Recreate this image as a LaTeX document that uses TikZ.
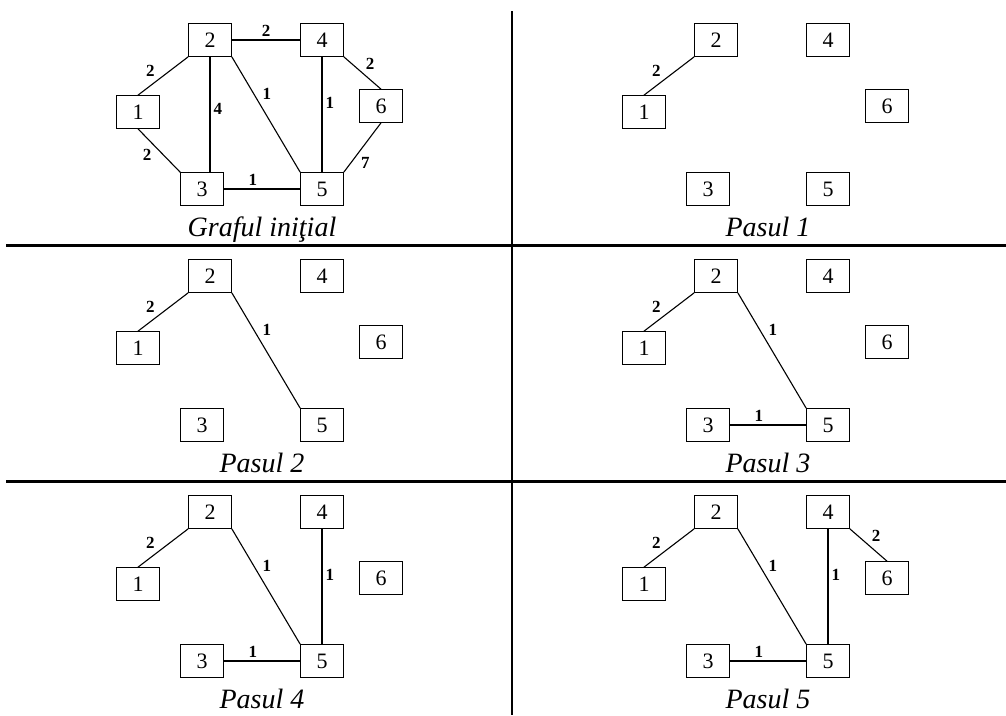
\documentclass[tikz,border=0pt]{standalone}
\usepackage{fontspec}
\setmainfont{Liberation Serif}
\usepackage{tikz}
\usetikzlibrary{positioning}
\tikzset{box node/.style={rectangle,draw,minimum width=43pt,minimum height=33pt,inner sep=0pt,line width=0.7pt,font=\fontsize{22}{22}\selectfont},
weight/.style={font=\bfseries\fontsize{17}{17}\selectfont,inner sep=3pt},
caption/.style={font=\itshape\fontsize{28}{28}\selectfont,anchor=base,inner sep=0pt},
sep line/.style={line width=2.2pt},}

\begin{document}
\begin{tikzpicture}[x=1pt,y=1pt,auto,on grid,line width=1.1pt]
    \useasboundingbox (0,0) rectangle (1006,-715);

    % the six panels
    \foreach \p/\x/\y/\txt in {g/0/0/{Graful iniţial},a/506/0/{Pasul 1},b/0/236/{Pasul 2},c/506/236/{Pasul 3},d/0/472/{Pasul 4},e/506/472/{Pasul 5}}{
        \node[box node] (\p1) at (138+\x,-112-\y) {1};
        \node[box node] (\p2) [above right=72pt and 72pt of \p1] {2};
        \node[box node] (\p3) [below right=77pt and 64pt of \p1] {3};
        \node[box node] (\p4) [right=112pt of \p2] {4};
        \node[box node] (\p5) [right=120pt of \p3] {5};
        \node[box node] (\p6) [above right=6pt and 243pt of \p1] {6};
        \node[caption] (\p0) at (262+\x,-236-\y) {\txt};
    }

    \draw[sep line] (6,-245.5) -- (1006,-245.5);
    \draw[sep line] (6,-481.5) -- (1006,-481.5);
    \draw[sep line] (512,-11) -- (512,-715);

    % Graful initial
    \path[draw,every node/.style=weight]
    (g1.north) edge node[pos=0.4] {2} (g2.south west)
    (g2.east) edge node {2} (g4.west)
    (g2.south) edge node[pos=0.45] {4} (g2.south |- g3.north)
    (g2.south east) edge node[pos=0.4] {1} (g5.north west)
    (g4.south) edge node[pos=0.4] {1} (g5.north)
    (g4.south east) edge node {2} (g6.north)
    (g6.south) edge node[pos=0.63] {7} (g5.north east)
    (g1.south) edge node[pos=0.4,swap] {2} (g3.north west)
    (g3.east) edge node[pos=0.38] {1} (g5.west);

    % Pasul 1
    \path[draw,every node/.style=weight]
    (a1.north) edge node[pos=0.4] {2} (a2.south west);

    % Pasul 2
    \path[draw,every node/.style=weight]
    (b1.north) edge node[pos=0.4] {2} (b2.south west)
    (b2.south east) edge node[pos=0.4] {1} (b5.north west);

    % Pasul 3
    \path[draw,every node/.style=weight]
    (c1.north) edge node[pos=0.4] {2} (c2.south west)
    (c2.south east) edge node[pos=0.4] {1} (c5.north west)
    (c3.east) edge node[pos=0.38] {1} (c5.west);

    % Pasul 4
    \path[draw,every node/.style=weight]
    (d1.north) edge node[pos=0.4] {2} (d2.south west)
    (d2.south east) edge node[pos=0.4] {1} (d5.north west)
    (d4.south) edge node[pos=0.4] {1} (d5.north)
    (d3.east) edge node[pos=0.38] {1} (d5.west);

    % Pasul 5
    \path[draw,every node/.style=weight]
    (e1.north) edge node[pos=0.4] {2} (e2.south west)
    (e2.south east) edge node[pos=0.4] {1} (e5.north west)
    (e4.south) edge node[pos=0.4] {1} (e5.north)
    (e4.south east) edge node {2} (e6.north)
    (e3.east) edge node[pos=0.38] {1} (e5.west);
\end{tikzpicture}
\end{document}
